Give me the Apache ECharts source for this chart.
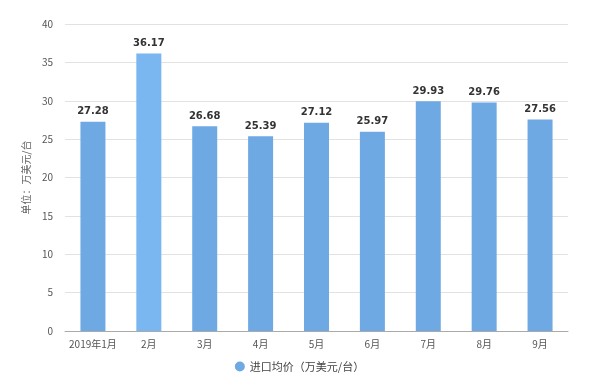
<!DOCTYPE html>
<html><head><meta charset="utf-8">
<script src="https://cdn.jsdelivr.net/npm/echarts@6/dist/echarts.min.js"></script>
<style>html,body{margin:0;padding:0;background:#fff}#c{width:599px;height:387px}</style>
</head><body><div id="c"></div>
<script>
const categories = ['2019年1月','2月','3月','4月','5月','6月','7月','8月','9月'];
const values = [27.28, 36.17, 26.68, 25.39, 27.12, 25.97, 29.93, 29.76, 27.56];
const seriesName = '进口均价（万美元/台）';
const yAxisName = '单位：万美元/台';

const chart = echarts.init(document.getElementById('c'));
chart.setOption({
  animation: false,
  textStyle: {fontFamily: '"Noto Sans CJK SC", "Open Sans", sans-serif'},
  grid: {left: 65, right: 31, top: 24, bottom: 56, containLabel: false},
  legend: {
    bottom: 10, left: 'center', icon: 'circle', itemWidth: 10, itemHeight: 10,
    textStyle: {color: '#444', fontSize: 11},
    data: [seriesName]
  },
  xAxis: {
    type: 'category', data: categories,
    axisLine: {lineStyle: {color: '#aaa'}},
    axisTick: {show: false},
    axisLabel: {color: '#555', fontSize: 10, margin: 8, interval: 0}
  },
  yAxis: {
    type: 'value', min: 0, max: 40, interval: 5,
    name: yAxisName, nameLocation: 'middle', nameGap: 12, nameRotate: 90,
    nameTextStyle: {color: '#666', fontSize: 10},
    axisLine: {show: false}, axisTick: {show: false},
    axisLabel: {color: '#555', fontSize: 10, margin: 12},
    splitLine: {lineStyle: {color: '#e2e2e2'}}
  },
  series: [{
    name: seriesName, type: 'bar', data: values.map((v, i) => i === 1 ? {value: v, itemStyle: {color: '#7ab6ef'}} : v),
    barWidth: 25,
    itemStyle: {color: '#6fa9e4'},
    label: {show: true, position: 'top', color: '#333', fontWeight: 'bold', fontSize: 10, distance: 5,
            fontFamily: '"DejaVu Sans", sans-serif'}
  }]
});
</script></body></html>
